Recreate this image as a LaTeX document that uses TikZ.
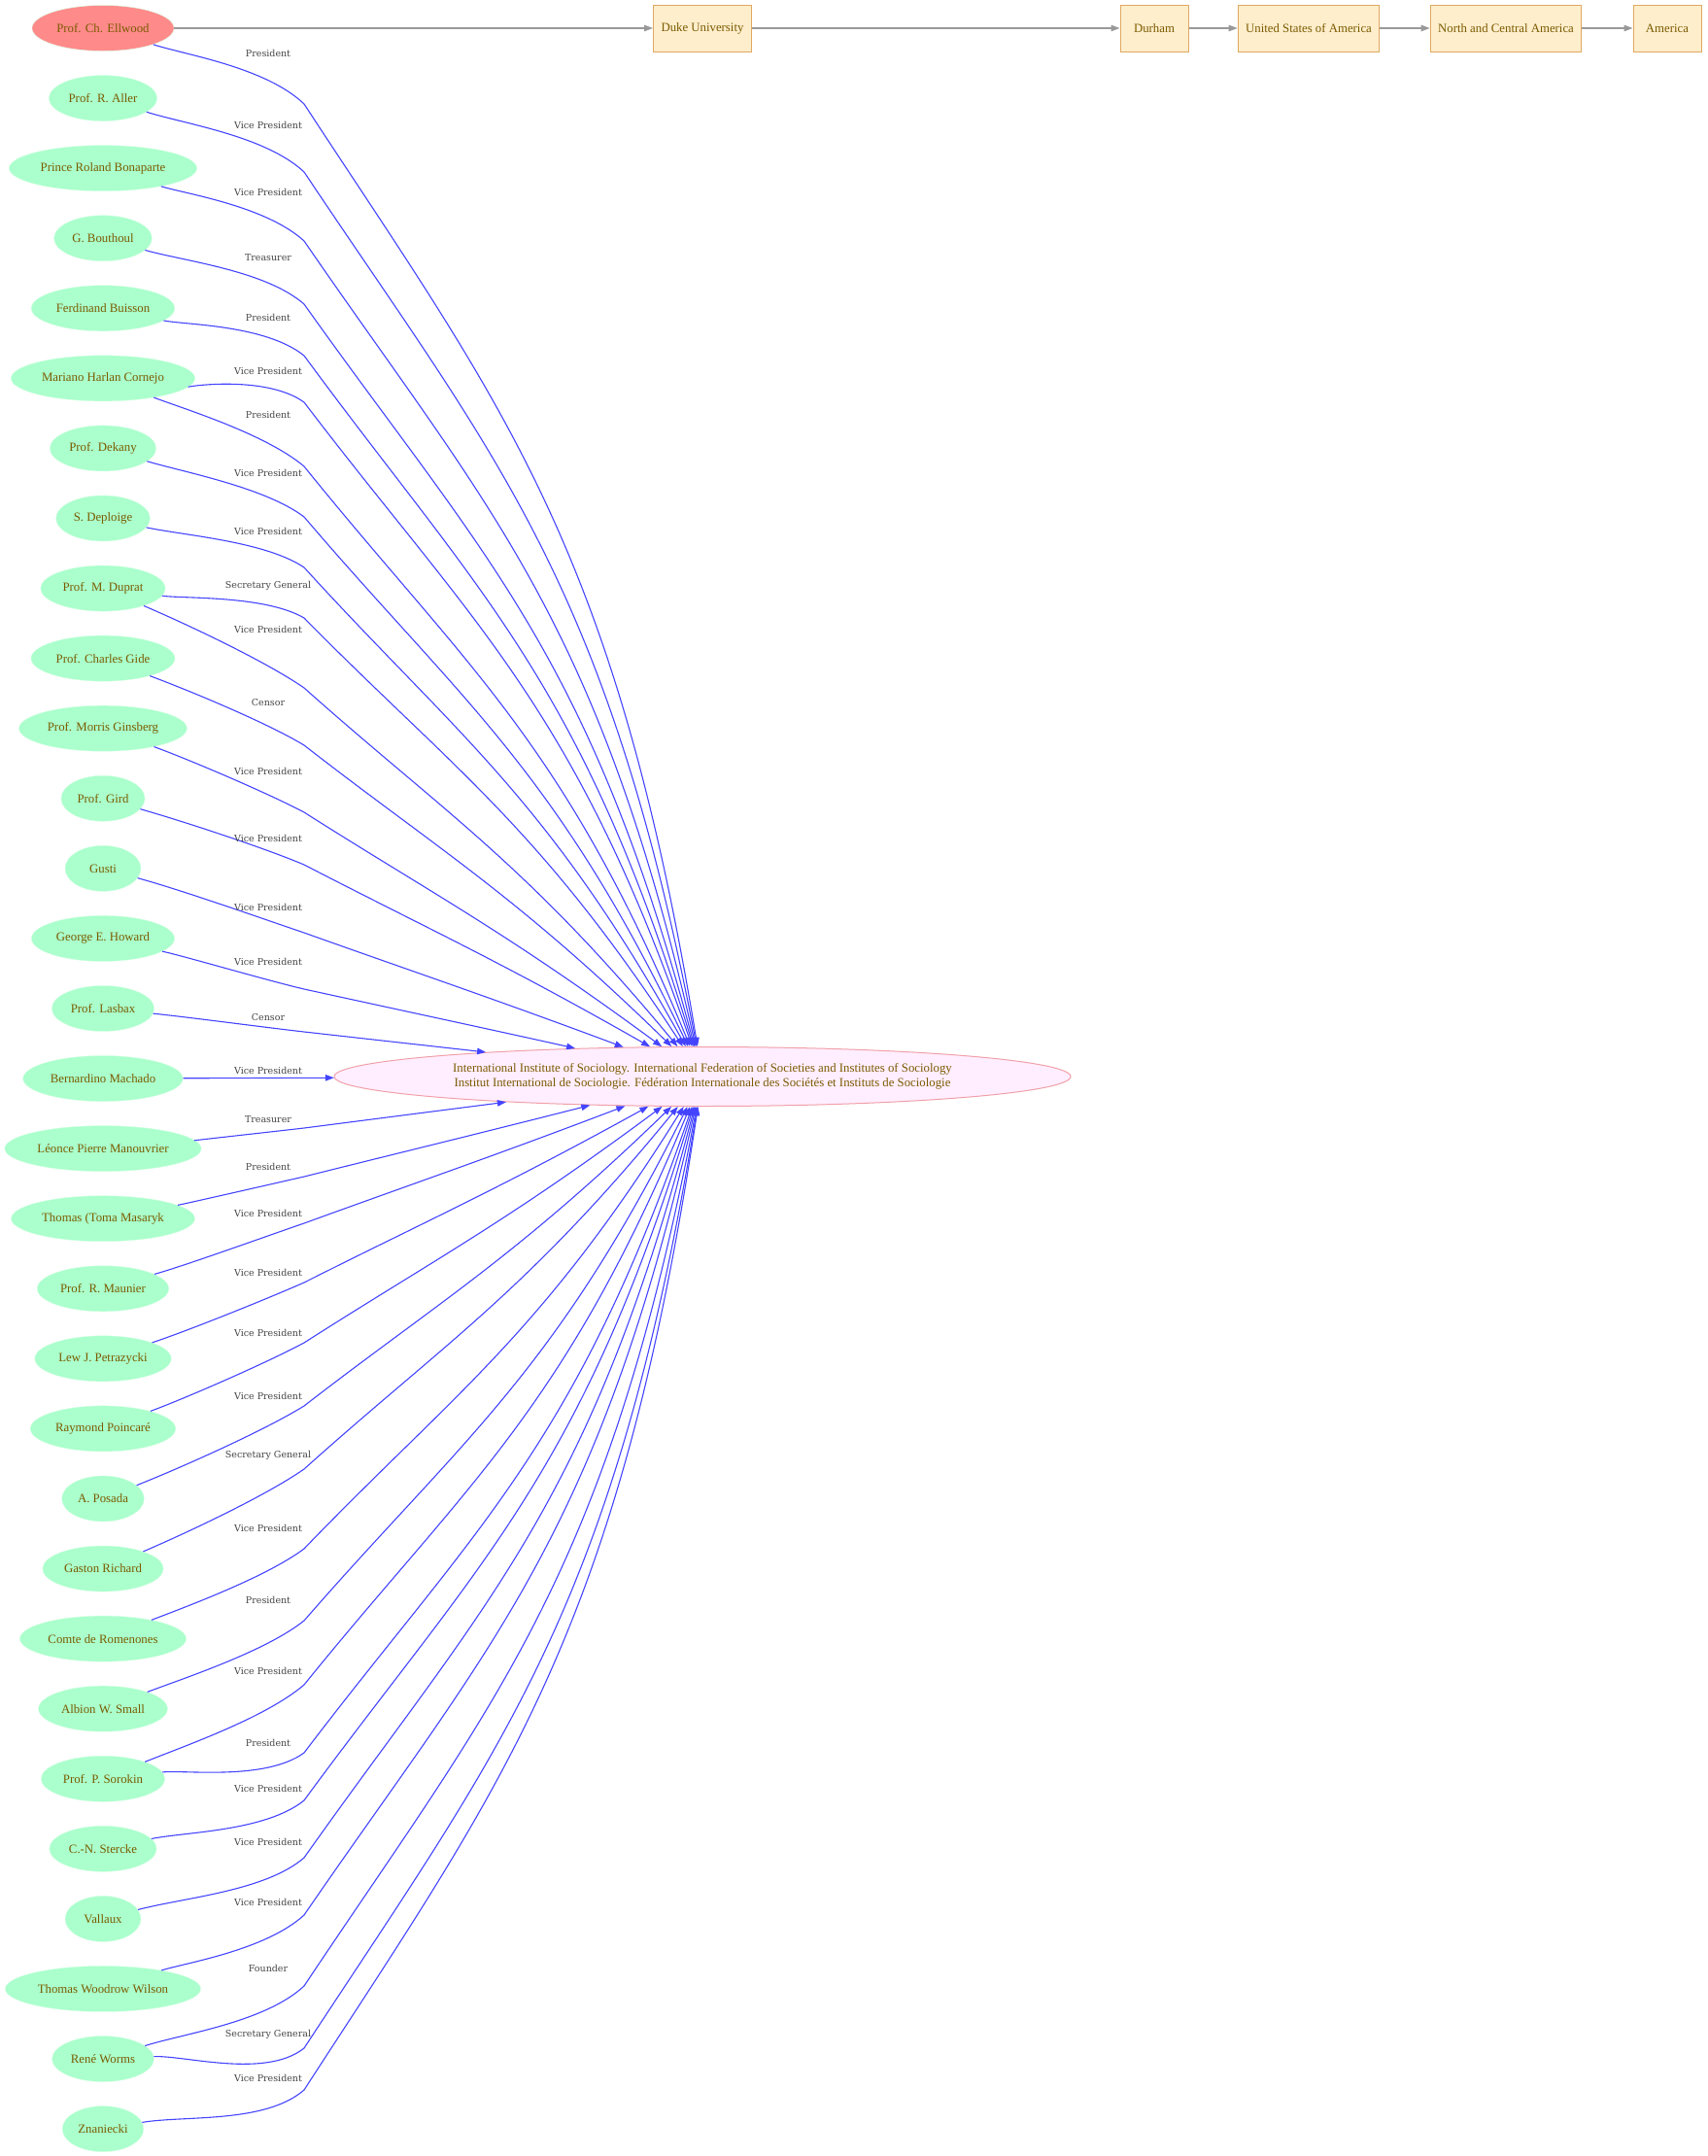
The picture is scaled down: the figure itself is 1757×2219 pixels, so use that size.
\documentclass[tikz,border=0pt]{standalone}
\usepackage{fontspec}
\setmainfont{Liberation Serif}
\newfontfamily\rolefont{DejaVu Serif}
\usetikzlibrary{shapes.geometric,arrows.meta}

\definecolor{ink}{HTML}{7A5A00}
\definecolor{mint}{HTML}{AAFFCC}
\definecolor{mintline}{HTML}{D6FFE4}
\definecolor{salmon}{HTML}{FF8A8A}
\definecolor{sand}{HTML}{FFEECC}
\definecolor{sandline}{HTML}{E0A860}
\definecolor{blush}{HTML}{FFEEFF}
\definecolor{blushline}{HTML}{F0A0A8}
\definecolor{linkblue}{HTML}{4444FF}
\definecolor{geogray}{HTML}{999999}
\definecolor{rolegray}{HTML}{444444}

\begin{document}
\begin{tikzpicture}[x=1pt,y=-1pt,
	>={Triangle[length=9pt,width=6.5pt]},
	person/.style={ellipse,fill=mint,draw=mintline,text=ink,font=\fontsize{12.8}{15}\selectfont,
		minimum width=78pt,minimum height=47pt,inner xsep=4pt,inner ysep=0pt},
	place/.style={rectangle,fill=sand,draw=sandline,line width=1pt,text=ink,font=\fontsize{12.8}{15}\selectfont,
		minimum width=70pt,minimum height=48pt,inner xsep=8pt},
	link/.style={->,draw=linkblue,line width=1.1pt},
	geo/.style={->,draw=geogray,line width=1.2pt},
	role/.style={font=\rolefont\fontsize{9.5}{11}\selectfont,text=rolegray}]

	\useasboundingbox (0,0) rectangle (1757,2219);

	\def\rowsep{72.07}
	\def\colx{106}

	% the institute
	\node[ellipse,fill=blush,draw=blushline,line width=1pt,text=ink,align=center,inner sep=0pt,
		font=\fontsize{12.8}{15}\selectfont,minimum width=758pt,minimum height=61pt] (hub) at (723,1108)
		{International Institute of Sociology. International Federation of Societies and Institutes of Sociology\\
		Institut International de Sociologie. Fédération Internationale des Sociétés et Instituts de Sociologie};

	% people
	\node[person,fill=salmon] (ellwood) at (\colx,29) {Prof. Ch. Ellwood};
	\node[person] (aller) at (\colx,29+1*\rowsep) {Prof. R. Aller};
	\node[person] (bonaparte) at (\colx,29+2*\rowsep) {Prince Roland Bonaparte};
	\node[person] (bouthoul) at (\colx,29+3*\rowsep) {G. Bouthoul};
	\node[person] (buisson) at (\colx,29+4*\rowsep) {Ferdinand Buisson};
	\node[person] (cornejo) at (\colx,29+5*\rowsep) {Mariano Harlan Cornejo};
	\node[person] (dekany) at (\colx,29+6*\rowsep) {Prof. Dekany};
	\node[person] (deploige) at (\colx,29+7*\rowsep) {S. Deploige};
	\node[person] (duprat) at (\colx,29+8*\rowsep) {Prof. M. Duprat};
	\node[person] (gide) at (\colx,29+9*\rowsep) {Prof. Charles Gide};
	\node[person] (ginsberg) at (\colx,29+10*\rowsep) {Prof. Morris Ginsberg};
	\node[person] (gird) at (\colx,29+11*\rowsep) {Prof. Gird};
	\node[person] (gusti) at (\colx,29+12*\rowsep) {Gusti};
	\node[person] (howard) at (\colx,29+13*\rowsep) {George E. Howard};
	\node[person] (lasbax) at (\colx,29+14*\rowsep) {Prof. Lasbax};
	\node[person] (machado) at (\colx,29+15*\rowsep) {Bernardino Machado};
	\node[person] (manouvrier) at (\colx,29+16*\rowsep) {Léonce Pierre Manouvrier};
	\node[person] (masaryk) at (\colx,29+17*\rowsep) {Thomas (Toma Masaryk};
	\node[person] (maunier) at (\colx,29+18*\rowsep) {Prof. R. Maunier};
	\node[person] (petrazycki) at (\colx,29+19*\rowsep) {Lew J. Petrazycki};
	\node[person] (poincare) at (\colx,29+20*\rowsep) {Raymond Poincaré};
	\node[person] (posada) at (\colx,29+21*\rowsep) {A. Posada};
	\node[person] (richard) at (\colx,29+22*\rowsep) {Gaston Richard};
	\node[person] (romenones) at (\colx,29+23*\rowsep) {Comte de Romenones};
	\node[person] (small) at (\colx,29+24*\rowsep) {Albion W. Small};
	\node[person] (sorokin) at (\colx,29+25*\rowsep) {Prof. P. Sorokin};
	\node[person] (stercke) at (\colx,29+26*\rowsep) {C.-N. Stercke};
	\node[person] (vallaux) at (\colx,29+27*\rowsep) {Vallaux};
	\node[person] (wilson) at (\colx,29+28*\rowsep) {Thomas Woodrow Wilson};
	\node[person] (worms) at (\colx,29+29*\rowsep) {René Worms};
	\node[person] (znaniecki) at (\colx,29+30*\rowsep) {Znaniecki};

	% places
	\node[place] (duke) at (723,29) {Duke University};
	\node[place] (durham) at (1188,29) {Durham};
	\node[place] (usa) at (1347,29) {United States of America};
	\node[place] (nca) at (1550,29) {North and Central America};
	\node[place] (america) at (1716,29) {America};

	\draw[geo] (ellwood) -- (duke);
	\draw[geo] (duke) -- (durham);
	\draw[geo] (durham) -- (usa);
	\draw[geo] (usa) -- (nca);
	\draw[geo] (nca) -- (america);

	% role edges: node, row, label y, bend y, role
	\def\tie#1#2#3#4#5{%
		\pgfmathsetmacro{\yp}{29+\rowsep*#2}
		\pgfmathsetmacro{\ya}{\yp+0.35*(#4-\yp)}
		\pgfmathsetmacro{\dyy}{1108-#4}
		\pgfmathsetmacro{\slp}{abs(\dyy)/410}
		\pgfmathsetmacro{\afac}{min(0.5,0.25+0.1*\slp)}
		\pgfmathsetmacro{\bfac}{1/(1+0.1*\slp*\slp)}
		\pgfmathsetmacro{\rfac}{1/(1+0.25*\slp*\slp)}
		\pgfmathsetmacro{\mslp}{0.5*((#4-\yp)/207+\bfac*\dyy/410)}
		\pgfmathsetmacro{\yk}{#4-40*\mslp}
		\pgfmathsetmacro{\xb}{313+410*\afac}
		\pgfmathsetmacro{\yb}{#4+\afac*\bfac*\dyy}
		\pgfmathsetmacro{\xc}{723-225.5*\rfac}
		\pgfmathsetmacro{\yc}{1108-0.55*\dyy}
		\draw[link] (#1) .. controls (190,\ya) and (273,\yk) .. (313,#4)
			.. controls (\xb,\yb) and (\xc,\yc) .. (hub);
		\node[role] (#1-#3) at (276,#3) {#5};
	}

	\tie{ellwood}{0}{55}{107}{President}
	\tie{aller}{1}{129}{177}{Vice President}
	\tie{bonaparte}{2}{198}{248}{Vice President}
	\tie{bouthoul}{3}{265}{313}{Treasurer}
	\tie{buisson}{4}{327}{366}{President}
	\tie{cornejo}{5}{382}{414}{Vice President}
	\tie{cornejo}{5}{427}{480}{President}
	\tie{dekany}{6}{487}{532}{Vice President}
	\tie{deploige}{7}{547}{584}{Vice President}
	\tie{duprat}{8}{603}{636}{Secretary General}
	\tie{duprat}{8}{648}{708}{Vice President}
	\tie{gide}{9}{723}{767}{Censor}
	\tie{ginsberg}{10}{794}{836}{Vice President}
	\tie{gird}{11}{863}{890}{Vice President}
	\tie{gusti}{12}{934}{960}{Vice President}
	\tie{howard}{13}{990}{1018}{Vice President}
	\tie{lasbax}{14}{1047}{1062}{Censor}

	\draw[link] (machado) -- (hub);
	\node[role] (machado-1102) at (276,1102) {Vice President};

	\tie{manouvrier}{16}{1152}{1161}{Treasurer}
	\tie{masaryk}{17}{1201}{1211}{President}
	\tie{maunier}{18}{1249}{1259}{Vice President}
	\tie{petrazycki}{19}{1310}{1320}{Vice President}
	\tie{poincare}{20}{1372}{1382}{Vice President}
	\tie{posada}{21}{1437}{1447}{Vice President}
	\tie{richard}{22}{1498}{1512}{Secretary General}
	\tie{romenones}{23}{1573}{1594}{Vice President}
	\tie{small}{24}{1647}{1668}{President}
	\tie{sorokin}{25}{1720}{1734}{Vice President}
	\tie{sorokin}{25}{1794}{1804}{President}
	\tie{stercke}{26}{1841}{1853}{Vice President}
	\tie{vallaux}{27}{1896}{1912}{Vice President}
	\tie{wilson}{28}{1958}{1971}{Vice President}
	\tie{worms}{29}{2026}{2044}{Founder}
	\tie{worms}{29}{2094}{2108}{Secretary General}
	\tie{znaniecki}{30}{2139}{2151}{Vice President}

\end{tikzpicture}
\end{document}
